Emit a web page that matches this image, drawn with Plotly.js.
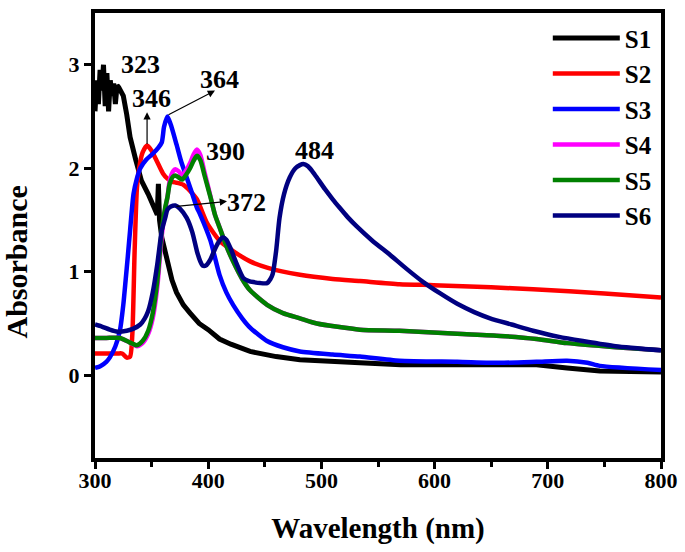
<!DOCTYPE html>
<html>
<head>
<meta charset="utf-8">
<script src="https://cdn.plot.ly/plotly-3.0.1.min.js"></script>
<style>html,body{margin:0;padding:0;background:#fff;}#chart{width:685px;height:552px;}</style>
</head>
<body>
<div id="chart"></div>
<script>
// ---- data ----
const seriesNames = ["S1", "S2", "S3", "S4", "S5", "S6"];
const seriesColors = ["#000000", "#ff0000", "#0000ff", "#ff00ff", "#008000", "#000080"];

const s1Wavelength = [300,301.5,303,304.5,306,307.5,309,310.5,312,313.5,315,316.5,318,319.5,321,323,325,328,331,336,341,347,353,355,356,357,359,362,364,366,368,372,378,384,392,400,410,420,437,460,481,534,570,650,690,717,746,800];
const s1Absorbance = [2.55,2.85,2.62,2.95,2.75,3.0,2.6,2.92,2.55,2.85,2.7,2.82,2.62,2.8,2.78,2.75,2.7,2.52,2.3,2.08,1.88,1.75,1.62,1.55,1.85,1.5,1.33,1.2,1.08,1.0,0.92,0.8,0.68,0.6,0.5,0.44,0.35,0.3,0.23,0.18,0.15,0.12,0.1,0.1,0.1,0.07,0.04,0.03];

const s2Wavelength = [300,310,320,324,328,331,333,335,337,339,342,346,350,355,360,364,368,372,378,384,390,399,410,422,437,452,481,510,534,569,599,650,687,750,800];
const s2Absorbance = [0.21,0.21,0.21,0.21,0.17,0.18,0.4,1.2,1.8,2.0,2.15,2.22,2.17,2.06,1.95,1.9,1.87,1.86,1.84,1.78,1.7,1.47,1.3,1.2,1.1,1.04,0.97,0.93,0.91,0.88,0.87,0.85,0.83,0.79,0.75];

const s3Wavelength = [300,305,310,313,318,322,325,327,329,331,334,337,340,345,351,356,359,361,364,367,372,376,381,386,390,393,402,410,416,422,430,437,452,466,481,510,534,569,620,658,690,717,735,746,800];
const s3Absorbance = [0.07,0.09,0.13,0.17,0.28,0.43,0.68,0.91,1.15,1.4,1.75,1.9,2.0,2.08,2.14,2.2,2.25,2.4,2.5,2.42,2.23,2.07,1.91,1.75,1.62,1.55,1.3,0.97,0.8,0.68,0.55,0.46,0.33,0.27,0.23,0.2,0.18,0.14,0.13,0.12,0.13,0.14,0.12,0.09,0.05];

const s45Wavelength = [300,310,322,330,337,342,347,351,355,359,362,364,366,369,371,374,377,380,384,387,390,393,397,402,406,410,416,422,430,437,452,466,481,496,534,569,620,658,690,717,760,800];
const s4Absorbance = [0.36,0.36,0.36,0.32,0.28,0.31,0.4,0.55,0.85,1.35,1.6,1.72,1.88,1.97,1.99,1.97,1.93,1.97,2.05,2.13,2.18,2.13,1.95,1.73,1.55,1.43,1.25,1.1,0.93,0.82,0.68,0.6,0.55,0.5,0.44,0.43,0.4,0.38,0.35,0.31,0.27,0.24];
const s5Absorbance = [0.36,0.36,0.36,0.32,0.29,0.33,0.43,0.6,0.91,1.4,1.62,1.72,1.85,1.92,1.93,1.91,1.89,1.93,2.0,2.07,2.12,2.08,1.92,1.72,1.55,1.43,1.25,1.1,0.93,0.82,0.68,0.6,0.55,0.5,0.44,0.43,0.4,0.38,0.35,0.31,0.27,0.24];

const s6Wavelength = [300,306,313,320,328,334,340,344,347,351,355,359,362,364,367,371,375,381,386,390,393,395,398,402,406,410,413,416,420,425,431,436,440,446,452,455,457,460,463,467,472,477,481,484,488,492,496,503,510,516,523,531,545,561,575,590,605,620,635,649,668,687,710,731,760,800];
const s6Absorbance = [0.49,0.47,0.44,0.42,0.43,0.45,0.49,0.55,0.62,0.8,1.07,1.4,1.52,1.6,1.63,1.64,1.61,1.52,1.38,1.2,1.1,1.06,1.06,1.12,1.22,1.3,1.33,1.31,1.22,1.08,0.94,0.91,0.9,0.89,0.89,0.93,0.98,1.2,1.52,1.75,1.91,2.0,2.03,2.04,2.02,1.97,1.91,1.8,1.7,1.62,1.53,1.44,1.3,1.16,1.03,0.9,0.79,0.69,0.61,0.55,0.49,0.43,0.37,0.33,0.28,0.24];

// peak labels: text, label position, and optional arrow (tail -> head)
const peakLabels = ["323", "346", "364", "390", "372", "484"];
const peakLabelX = [340, 350, 410, 415, 434, 494];
const peakLabelY = [3.0, 2.67, 2.86, 2.16, 1.67, 2.17];
const arrowTailX = [346, 363.6, 370.7];
const arrowTailY = [2.22, 2.51, 1.63];
const arrowHeadX = [346, 406, 416.6];
const arrowHeadY = [2.54, 2.75, 1.68];

const xTitle = "Wavelength (nm)";
const yTitle = "Absorbance";

// ---- chart ----
const FONT = "Liberation Serif, Times New Roman, serif";
const xs = [s1Wavelength, s2Wavelength, s3Wavelength, s45Wavelength, s45Wavelength, s6Wavelength];
const ys = [s1Absorbance, s2Absorbance, s3Absorbance, s4Absorbance, s5Absorbance, s6Absorbance];

const traces = seriesNames.map((name, i) => ({
  type: "scatter",
  mode: "lines",
  name: name,
  x: xs[i],
  y: ys[i],
  line: {color: seriesColors[i], width: i === 0 ? 5 : 4.5, shape: i === 0 ? "linear" : "spline", smoothing: 0.6}
}));

const annotations = [];
peakLabels.forEach((t, i) => {
  annotations.push({
    x: peakLabelX[i], y: peakLabelY[i], xref: "x", yref: "y",
    text: t, showarrow: false,
    font: {family: FONT, size: 26, color: "#000", weight: "bold"}
  });
});
arrowTailX.forEach((_, i) => {
  annotations.push({
    x: arrowHeadX[i], y: arrowHeadY[i], ax: arrowTailX[i], ay: arrowTailY[i],
    xref: "x", yref: "y", axref: "x", ayref: "y",
    text: "", showarrow: true, arrowhead: 2, arrowsize: 1.2, arrowwidth: 1.2, arrowcolor: "#000"
  });
});
// y-axis title placed like the reference (slightly below the plot centre)
annotations.push({
  xref: "paper", yref: "paper", x: -0.139, y: 0.44, xanchor: "center", yanchor: "middle",
  text: yTitle, textangle: -90, showarrow: false,
  font: {family: FONT, size: 30, color: "#000", weight: "bold"}
});

const layout = {
  width: 685, height: 552,
  margin: {l: 95, r: 24, t: 13, b: 94},
  paper_bgcolor: "#fff", plot_bgcolor: "#fff",
  font: {family: FONT, color: "#000"},
  showlegend: true,
  legend: {
    x: 0.80, y: 0.995, xanchor: "left", yanchor: "top",
    bgcolor: "rgba(0,0,0,0)", borderwidth: 0,
    font: {family: FONT, size: 25, color: "#000", weight: "bold"},
    tracegroupgap: 0, itemwidth: 67
  },
  xaxis: {
    range: [300, 800], dtick: 100, tick0: 300,
    showgrid: false, zeroline: false,
    showline: true, linecolor: "#000", linewidth: 4, mirror: true,
    ticks: "outside", ticklen: 7, tickwidth: 3, tickcolor: "#000",
    minor: {dtick: 50, ticks: "outside", ticklen: 5, tickwidth: 3, tickcolor: "#000", showgrid: false},
    tickfont: {family: FONT, size: 22, color: "#000", weight: "bold"},
    ticklabelstandoff: -7,
    title: {text: xTitle, font: {family: FONT, size: 29, color: "#000", weight: "bold"}, standoff: 26}
  },
  yaxis: {
    range: [-0.8, 3.5], dtick: 1, tick0: 0,
    showgrid: false, zeroline: false,
    showline: true, linecolor: "#000", linewidth: 4, mirror: true,
    ticks: "outside", ticklen: 7, tickwidth: 3, tickcolor: "#000",
    tickfont: {family: FONT, size: 22, color: "#000", weight: "bold"}
  },
  annotations: annotations
};

Plotly.newPlot("chart", traces, layout, {displayModeBar: false, staticPlot: true});
</script>
</body>
</html>
